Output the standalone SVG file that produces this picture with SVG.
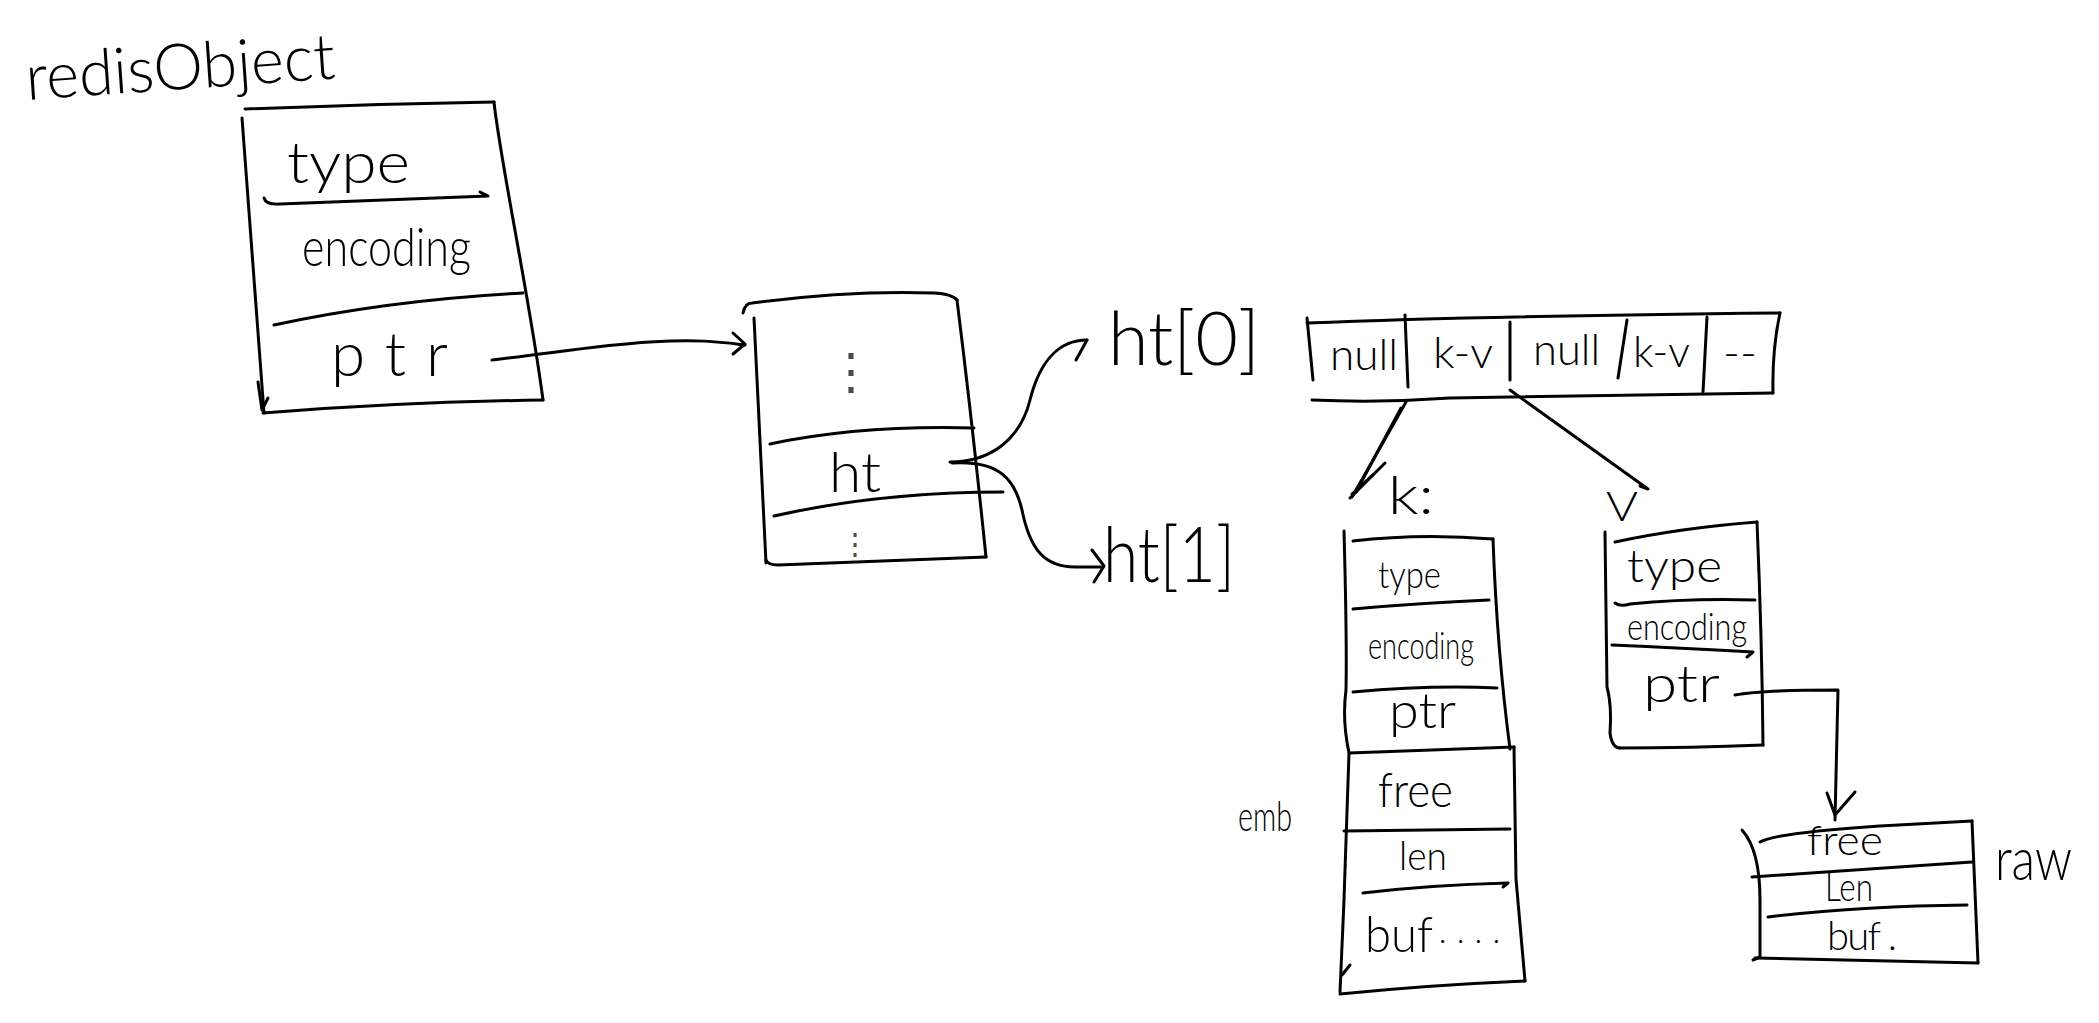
<svg xmlns="http://www.w3.org/2000/svg" width="2099" height="1023" viewBox="0 0 2099 1023">
<style>
.ln{fill:none;stroke:#000;stroke-width:3;stroke-linecap:round;stroke-linejoin:round}
.t{font-family:Lato,"Open Sans","Liberation Sans",sans-serif;font-weight:300;fill:#000}
.d{font-family:"DejaVu Sans",sans-serif;fill:#000}
</style>
<rect width="2099" height="1023" fill="#fff"/>
<g id="redisObject">
<text class="t" x="27" y="100" font-size="64" textLength="310" lengthAdjust="spacingAndGlyphs" transform="rotate(-4 27 100)">redisObject</text>
<path class="ln" d="M245,109 Q370,104 494,102"/>
<path class="ln" d="M242,118 Q252,260 264,413"/>
<path class="ln" d="M494,102 C500,160 530,300 543,400"/>
<path class="ln" d="M543,400 Q400,402 263,413"/>
<path class="ln" d="M264,198 Q266,205 280,204 L488,196 L480,192"/>
<path class="ln" d="M274,325 Q390,300 523,293"/>
<path class="ln" d="M258,382 L262,410 L268,398"/>
<text class="t" x="287" y="183" font-size="58" textLength="123" lengthAdjust="spacingAndGlyphs">type</text>
<text class="t" x="302" y="266" font-size="54" textLength="169" lengthAdjust="spacingAndGlyphs">encoding</text>
<text class="t" x="331" y="376" font-size="62" textLength="117" lengthAdjust="spacing">ptr</text>
</g>
<g id="dict">
<path class="ln" d="M743,313 Q745,303 752,303 Q850,290 934,293 Q952,294 957,300"/>
<path class="ln" d="M957,300 Q972,420 986,557"/>
<path class="ln" d="M986,557 L778,565 Q768,565 766,560"/>
<path class="ln" d="M754,318 Q760,440 766,563"/>
<path class="ln" d="M770,444 Q860,425 974,428"/>
<path class="ln" d="M774,516 Q880,492 1003,492"/>
<text class="d" x="826" y="388" font-size="50" font-weight="200" fill-opacity="0.7">⋮</text>
<text class="t" x="829" y="492" font-size="56" textLength="52" lengthAdjust="spacingAndGlyphs">ht</text>
<text class="d" x="840" y="554" font-size="30" font-weight="200" fill-opacity="0.7">⋮</text>
</g>
<g id="ht0">
<text class="t" x="1108" y="365" font-size="74" textLength="152" lengthAdjust="spacingAndGlyphs">ht[0]</text>
</g>
<g id="ht1">
<text class="t" x="1103" y="582" font-size="76" textLength="132" lengthAdjust="spacingAndGlyphs">ht[1]</text>
</g>
<g id="table">
<path class="ln" d="M1307,323 Q1480,316 1780,313"/>
<path class="ln" d="M1307,318 L1313,380"/>
<path class="ln" d="M1312,400 Q1380,403 1450,398 L1773,393"/>
<path class="ln" d="M1780,313 Q1772,350 1773,393"/>
<path class="ln" d="M1405,315 L1408,387"/>
<path class="ln" d="M1510,322 L1510,380"/>
<path class="ln" d="M1627,320 L1618,378"/>
<path class="ln" d="M1707,317 L1703,392"/>
<text class="t" x="1330" y="370" font-size="44" textLength="68" lengthAdjust="spacingAndGlyphs">null</text>
<text class="t" x="1433" y="368" font-size="44" textLength="60" lengthAdjust="spacingAndGlyphs">k-v</text>
<text class="t" x="1533" y="365" font-size="44" textLength="67" lengthAdjust="spacingAndGlyphs">null</text>
<text class="t" x="1633" y="367" font-size="44" textLength="57" lengthAdjust="spacingAndGlyphs">k-v</text>
<text class="t" x="1723" y="367" font-size="42" textLength="34" lengthAdjust="spacingAndGlyphs">--</text>
</g>
<g id="kobj">
<text class="t" x="1388" y="514" font-size="54" textLength="46" lengthAdjust="spacingAndGlyphs">k:</text>
<path class="ln" d="M1344,531 Q1347,640 1346,690 Q1342,720 1349,753 L1344,900 L1340,992"/>
<path class="ln" d="M1353,541 Q1420,533 1493,539"/>
<path class="ln" d="M1493,539 Q1497,650 1510,749"/>
<path class="ln" d="M1353,609 Q1420,603 1489,600"/>
<path class="ln" d="M1353,692 Q1430,685 1497,688"/>
<path class="ln" d="M1349,753 L1514,747"/>
<path class="ln" d="M1514,747 L1516,879 L1525,981"/>
<path class="ln" d="M1525,981 Q1430,985 1340,994"/>
<path class="ln" d="M1344,831 L1510,829"/>
<path class="ln" d="M1363,893 Q1430,885 1508,883 L1503,887"/>
<path class="ln" d="M1342,975 L1350,965"/>
<text class="t" x="1378" y="588" font-size="38" textLength="63" lengthAdjust="spacingAndGlyphs">type</text>
<text class="t" x="1368" y="659" font-size="38" textLength="106" lengthAdjust="spacingAndGlyphs">encoding</text>
<text class="t" x="1389" y="728" font-size="50" textLength="67" lengthAdjust="spacingAndGlyphs">ptr</text>
<text class="t" x="1378" y="807" font-size="48" textLength="75" lengthAdjust="spacingAndGlyphs">free</text>
<text class="t" x="1399" y="870" font-size="40" textLength="48" lengthAdjust="spacingAndGlyphs">len</text>
<text class="t" x="1365" y="952" font-size="50" textLength="68" lengthAdjust="spacingAndGlyphs">buf</text>
<text class="t" x="1439" y="950" font-size="30" textLength="61" lengthAdjust="spacing">· · · ·</text>
</g>
<g id="emb">
<text class="t" x="1238" y="831" font-size="42" textLength="54" lengthAdjust="spacingAndGlyphs">emb</text>
</g>
<g id="vobj">
<text class="t" x="1606" y="521" font-size="42" textLength="32" lengthAdjust="spacingAndGlyphs">V</text>
<path class="ln" d="M1605,532 L1607,687 Q1612,705 1610,733 Q1612,748 1620,748"/>
<path class="ln" d="M1615,542 Q1680,528 1757,522"/>
<path class="ln" d="M1757,522 Q1762,640 1763,745"/>
<path class="ln" d="M1763,745 Q1690,748 1620,748"/>
<path class="ln" d="M1615,603 Q1620,607 1630,604 Q1690,598 1755,600"/>
<path class="ln" d="M1612,645 Q1680,648 1753,652 L1747,657"/>
<text class="t" x="1627" y="582" font-size="46" textLength="95" lengthAdjust="spacingAndGlyphs">type</text>
<text class="t" x="1627" y="640" font-size="38" textLength="120" lengthAdjust="spacingAndGlyphs">encoding</text>
<text class="t" x="1643" y="702" font-size="52" textLength="77" lengthAdjust="spacingAndGlyphs">ptr</text>
</g>
<g id="raw">
<path class="ln" d="M1742,830 Q1760,850 1760,900 L1760,957 L1753,960"/>
<path class="ln" d="M1760,842 Q1775,833 1880,826 L1972,821"/>
<path class="ln" d="M1972,821 L1978,963"/>
<path class="ln" d="M1978,963 L1755,958"/>
<path class="ln" d="M1752,877 Q1860,870 1972,862"/>
<path class="ln" d="M1768,917 Q1860,906 1967,905"/>
<text class="t" x="1807" y="855" font-size="42" textLength="76" lengthAdjust="spacingAndGlyphs">free</text>
<text class="t" x="1825" y="901" font-size="40" textLength="48" lengthAdjust="spacingAndGlyphs">Len</text>
<text class="t" x="1827" y="950" font-size="40" textLength="70" lengthAdjust="spacing">buf .</text>
<text class="t" x="1995" y="880" font-size="60" textLength="77" lengthAdjust="spacingAndGlyphs">raw</text>
</g>
<g id="connectors">
<path class="ln" d="M492,360 C560,352 600,345 650,342 S720,342 745,345"/>
<path class="ln" d="M733,333 L745,344 L733,354"/>
<path class="ln" d="M950,462 C990,462 1020,440 1030,400 C1040,360 1060,340 1087,340"/>
<path class="ln" d="M1087,340 L1076,360"/>
<path class="ln" d="M952,463 C1000,460 1015,480 1022,510 C1030,550 1045,567 1075,567 L1103,567"/>
<path class="ln" d="M1092,550 L1104,566 L1094,582"/>
<path class="ln" d="M1406,402 L1352,497"/>
<path class="ln" d="M1401,408 L1356,492"/>
<path class="ln" d="M1350,498 L1385,463 M1352,494 L1378,470"/>
<path class="ln" d="M1510,390 Q1580,440 1648,489 L1640,486"/>
<path class="ln" d="M1735,695 Q1760,690 1838,690 L1835,820"/>
<path class="ln" d="M1827,793 L1835,815 L1855,792"/>
</g>
</svg>
